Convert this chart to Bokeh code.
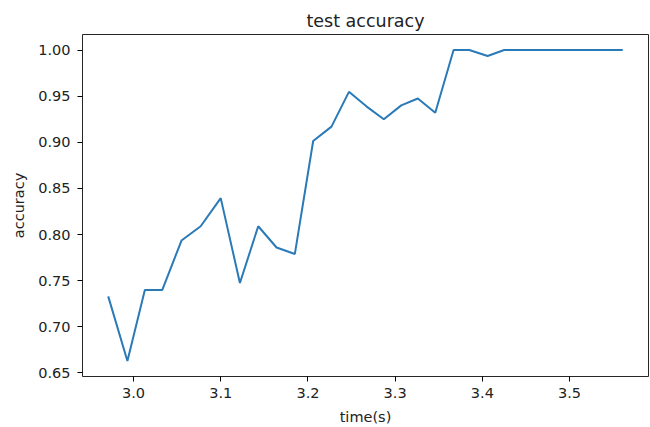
from bokeh.plotting import figure
from bokeh.models import Range1d, FixedTicker, NumeralTickFormatter
from bokeh.embed import file_html
from bokeh.resources import INLINE

# ---- data ----
times = [2.971, 2.993, 3.013, 3.033, 3.055, 3.077, 3.100, 3.122, 3.143, 3.164,
         3.185, 3.206, 3.227, 3.247, 3.267, 3.287, 3.307, 3.326, 3.346, 3.367,
         3.385, 3.406, 3.425, 3.444, 3.464, 3.483, 3.503, 3.522, 3.542, 3.561]
accuracy = [0.733, 0.663, 0.740, 0.740, 0.7935, 0.809, 0.8395, 0.7475, 0.809, 0.786,
            0.779, 0.9014, 0.917, 0.9547, 0.939, 0.925, 0.940, 0.9475, 0.932, 1.0,
            1.0, 0.9935, 1.0, 1.0, 1.0, 1.0, 1.0, 1.0, 1.0, 1.0]
x_ticks = [3.0, 3.1, 3.2, 3.3, 3.4, 3.5]
y_ticks = [0.65, 0.70, 0.75, 0.80, 0.85, 0.90, 0.95, 1.00]
title_text = "test accuracy"
x_label = "time(s)"
y_label = "accuracy"

# matplotlib-style 5% margins
xmin, xmax = min(times), max(times)
ymin, ymax = min(accuracy), max(accuracy)
xm = (xmax - xmin) * 0.05
ym = (ymax - ymin) * 0.05

FONT = "DejaVu Sans"
TXT = "#222222"

p = figure(width=650, height=427, output_backend="svg", toolbar_location=None,
           x_range=Range1d(xmin - xm, xmax + xm), y_range=Range1d(ymin - ym, ymax + ym),
           min_border_left=82, min_border_right=2, min_border_top=34, min_border_bottom=51)

p.title.text = title_text
p.title.align = "center"
p.title.text_font = FONT
p.title.text_font_size = "17.5px"
p.title.text_font_style = "normal"
p.title.text_color = TXT
p.title.standoff = 8

p.line(times, accuracy, line_color="#2a7ab8", line_width=2)

p.grid.visible = False
p.outline_line_color = "#000000"
p.outline_line_width = 1
p.outline_line_alpha = 0.85

for ax in (p.xaxis[0], p.yaxis[0]):
    ax.axis_line_color = None
    ax.major_tick_line_color = "#000000"
    ax.major_tick_line_width = 1
    ax.major_tick_out = 5
    ax.major_tick_in = 0
    ax.minor_tick_line_color = None
    ax.major_label_text_font = FONT
    ax.major_label_text_font_size = "14.5px"
    ax.major_label_text_color = TXT
    ax.axis_label_text_font = FONT
    ax.axis_label_text_font_size = "14.5px"
    ax.axis_label_text_font_style = "normal"
    ax.axis_label_text_color = TXT

p.xaxis[0].ticker = FixedTicker(ticks=x_ticks)
p.xaxis[0].formatter = NumeralTickFormatter(format="0.0")
p.xaxis[0].axis_label = x_label
p.xaxis[0].major_label_standoff = 6
p.xaxis[0].axis_label_standoff = 8

p.yaxis[0].ticker = FixedTicker(ticks=y_ticks)
p.yaxis[0].formatter = NumeralTickFormatter(format="0.00")
p.yaxis[0].axis_label = y_label
p.yaxis[0].major_label_standoff = 7
p.yaxis[0].axis_label_standoff = 8

open("out.html", "w").write(file_html(p, INLINE))
